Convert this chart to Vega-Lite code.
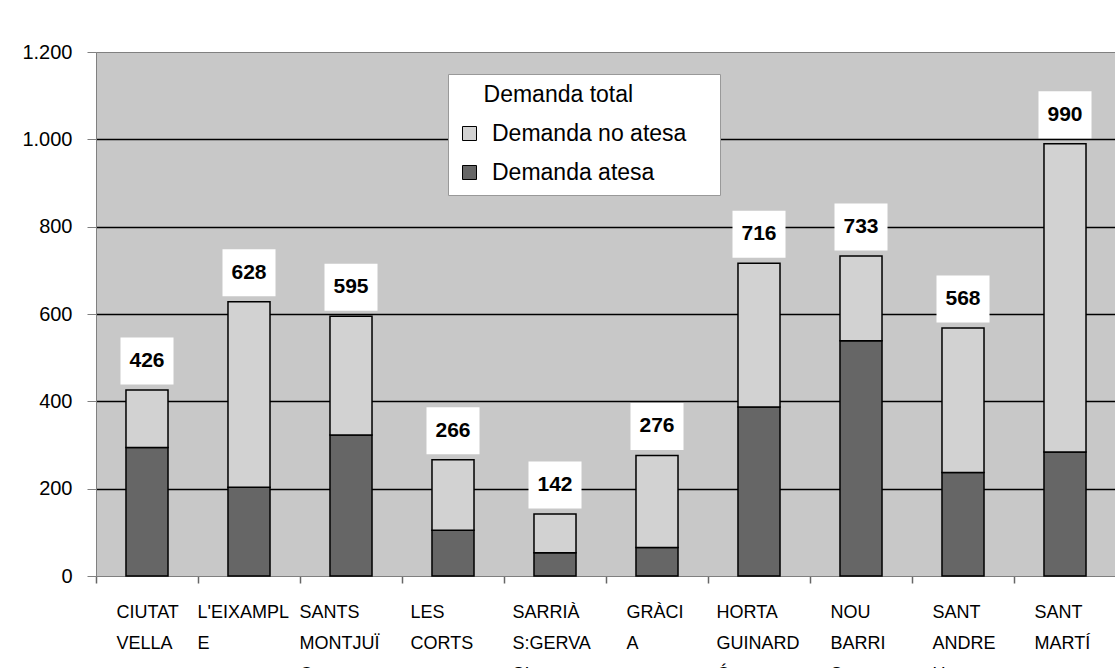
{
  "$schema": "https://vega.github.io/schema/vega-lite/v6.json",
  "width": 1020,
  "height": 524,
  "autosize": {"type": "none"},
  "padding": {"left": 96, "top": 52, "right": 0, "bottom": 92},
  "background": "white",
  "config": {
    "font": "Liberation Sans",
    "view": {"fill": "#c8c8c8", "stroke": "#808080", "strokeWidth": 1}
  },
  "data": {
    "values": [
      {"districte": "CIUTAT VELLA", "serie": "Demanda atesa", "valor": 294},
      {"districte": "CIUTAT VELLA", "serie": "Demanda no atesa", "valor": 132},
      {"districte": "L'EIXAMPLE", "serie": "Demanda atesa", "valor": 203},
      {"districte": "L'EIXAMPLE", "serie": "Demanda no atesa", "valor": 425},
      {"districte": "SANTS-MONTJUÏC", "serie": "Demanda atesa", "valor": 323},
      {"districte": "SANTS-MONTJUÏC", "serie": "Demanda no atesa", "valor": 272},
      {"districte": "LES CORTS", "serie": "Demanda atesa", "valor": 105},
      {"districte": "LES CORTS", "serie": "Demanda no atesa", "valor": 161},
      {"districte": "SARRIÀ-S.GERVASI", "serie": "Demanda atesa", "valor": 53},
      {"districte": "SARRIÀ-S.GERVASI", "serie": "Demanda no atesa", "valor": 89},
      {"districte": "GRÀCIA", "serie": "Demanda atesa", "valor": 65},
      {"districte": "GRÀCIA", "serie": "Demanda no atesa", "valor": 211},
      {"districte": "HORTA-GUINARDÓ", "serie": "Demanda atesa", "valor": 387},
      {"districte": "HORTA-GUINARDÓ", "serie": "Demanda no atesa", "valor": 329},
      {"districte": "NOU BARRIS", "serie": "Demanda atesa", "valor": 539},
      {"districte": "NOU BARRIS", "serie": "Demanda no atesa", "valor": 194},
      {"districte": "SANT ANDREU", "serie": "Demanda atesa", "valor": 237},
      {"districte": "SANT ANDREU", "serie": "Demanda no atesa", "valor": 331},
      {"districte": "SANT MARTÍ", "serie": "Demanda atesa", "valor": 284},
      {"districte": "SANT MARTÍ", "serie": "Demanda no atesa", "valor": 706}
    ]
  },
  "encoding": {
    "x": {
      "field": "districte",
      "type": "nominal",
      "sort": ["CIUTAT VELLA", "L'EIXAMPLE", "SANTS-MONTJUÏC", "LES CORTS", "SARRIÀ-S.GERVASI", "GRÀCIA", "HORTA-GUINARDÓ", "NOU BARRIS", "SANT ANDREU", "SANT MARTÍ"],
      "scale": {"paddingInner": 0.588, "paddingOuter": 0.294},
      "axis": {
        "title": null,
        "labelAngle": 0,
        "ticks": true,
        "tickOffset": -51,
        "tickSize": 7,
        "tickWidth": 1.5,
        "tickColor": "#666666",
        "domainColor": "#808080",
        "labelFontSize": 18,
        "labelColor": "black",
        "labelPadding": 20,
        "labelLineHeight": 31,
        "labelAlign": "left",
        "labelOffset": {
          "condition": [
            {"test": "datum.label == \"L'EIXAMPLE\" || datum.label == 'SANTS-MONTJUÏC'", "value": -1},
            {"test": "datum.label == 'LES CORTS' || datum.label == 'SARRIÀ-S.GERVASI' || datum.label == 'HORTA-GUINARDÓ'", "value": 8}
          ],
          "value": 20
        },
        "labelLimit": 0,
        "labelExpr": "{'CIUTAT VELLA':['CIUTAT','VELLA'], \"L'EIXAMPLE\":[\"L'EIXAMPL\",'E'], 'SANTS-MONTJUÏC':['SANTS','MONTJUÏ','C'], 'LES CORTS':['LES','CORTS'], 'SARRIÀ-S.GERVASI':['SARRIÀ','S:GERVA','SI'], 'GRÀCIA':['GRÀCI','A'], 'HORTA-GUINARDÓ':['HORTA','GUINARD','Ó'], 'NOU BARRIS':['NOU','BARRI','S'], 'SANT ANDREU':['SANT','ANDRE','U'], 'SANT MARTÍ':['SANT','MARTÍ']}[datum.label]"
      }
    },
    "y": {
      "field": "valor",
      "type": "quantitative",
      "scale": {"domain": [0, 1200], "nice": false},
      "axis": {
        "title": null,
        "values": [0, 200, 400, 600, 800, 1000, 1200],
        "grid": true,
        "gridColor": {"condition": {"test": "datum.value == 0 || datum.value == 1200", "value": "transparent"}, "value": "black"},
        "gridWidth": 1.5,
        "domainColor": "#808080",
        "tickColor": "#808080",
        "tickSize": 9,
        "labelPadding": 15,
        "labelFontSize": 20,
        "labelColor": "black",
        "labelExpr": "replace(format(datum.value, ','), ',', '.')"
      }
    }
  },
  "layer": [
    {
      "mark": {"type": "bar", "stroke": "black", "strokeWidth": 1.5, "opacity": 1},
      "encoding": {
        "y": {
          "field": "valor",
          "type": "quantitative",
          "stack": "zero"
        },
        "color": {
          "field": "serie",
          "type": "nominal",
          "scale": {"domain": ["Demanda no atesa", "Demanda atesa"], "range": ["#d2d2d2", "#666666"]},
          "legend": {
            "orient": "none",
            "legendX": 352,
            "legendY": 22,
            "title": "\u200b\u00a0\u00a0\u00a0\u00a0Demanda total\u00a0\u00a0\u00a0\u00a0\u00a0\u00a0\u00a0\u00a0\u00a0\u00a0\u00a0\u00a0\u200b",
            "titleFontSize": 23,
            "titleFontWeight": "normal",
            "titleColor": "black",
            "titlePadding": 15,
            "titleLimit": 0,
            "labelFontSize": 23,
            "labelColor": "black",
            "labelOffset": 11,
            "labelLimit": 0,
            "symbolType": "square",
            "symbolSize": 196,
            "symbolStrokeColor": "black",
            "symbolStrokeWidth": 1,
            "symbolOpacity": 1,
            "rowPadding": 15,
            "padding": 10,
            "fillColor": "white",
            "strokeColor": "#999999"
          }
        },
        "order": {"field": "serie", "sort": "ascending"}
      }
    },
    {
      "transform": [{"aggregate": [{"op": "sum", "field": "valor", "as": "valor"}], "groupby": ["districte"]}],
      "mark": {"type": "point", "shape": "M-1,-0.887L1,-0.887L1,0.887L-1,0.887Z", "filled": true, "fill": "white", "opacity": 1, "size": 2809, "strokeWidth": 0, "yOffset": -29}
    },
    {
      "transform": [{"aggregate": [{"op": "sum", "field": "valor", "as": "valor"}], "groupby": ["districte"]}],
      "mark": {"type": "text", "fontSize": 21, "fontWeight": "bold", "color": "black", "baseline": "middle", "yOffset": -29},
      "encoding": {
        "text": {"field": "valor", "type": "quantitative"}
      }
    }
  ]
}
